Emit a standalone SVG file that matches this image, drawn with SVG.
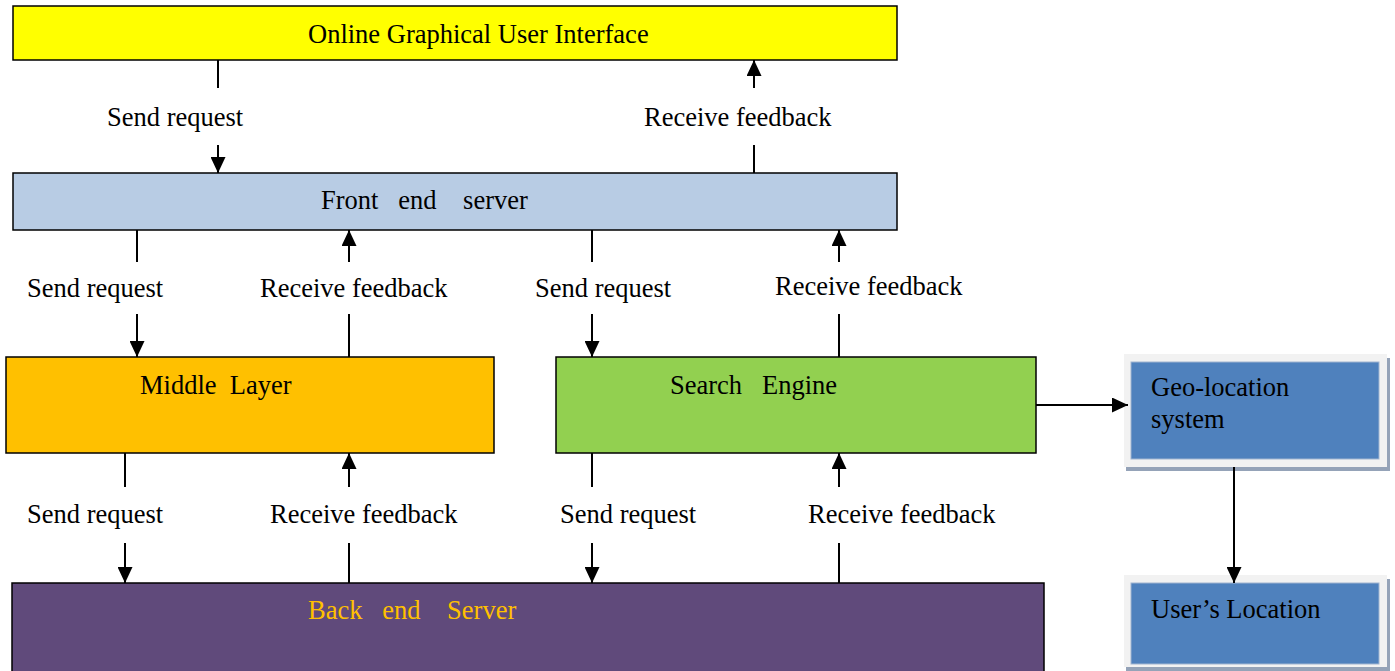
<svg xmlns="http://www.w3.org/2000/svg" width="1395" height="671" viewBox="0 0 1395 671">
<style>
text{font-family:"Liberation Serif","Times New Roman",serif;font-size:26.5px;fill:#000;white-space:pre}
.box{stroke:#000;stroke-width:1.5}
.ln{stroke:#000;stroke-width:2;fill:none}
.frame{fill:#F2F2F2}
.shadow{fill:#95A3B8}
.blue{fill:#4F81BD;stroke:#A0B4D0;stroke-width:1}
</style>
<defs>
<marker id="ah" viewBox="0 0 16 15" refX="16" refY="7.5" markerWidth="16" markerHeight="15" markerUnits="userSpaceOnUse" orient="auto">
<path d="M0,0 L16,7.5 L0,15 Z" fill="#000"/>
</marker>
</defs>
<rect width="1395" height="671" fill="#fff"/>
<g id="gui"><rect class="box" x="13" y="6" width="884" height="54" fill="#FFFF00"/><text x="308" y="43">Online Graphical User Interface</text></g>
<g id="frontend"><rect class="box" x="13" y="173" width="884" height="57" fill="#B8CCE4"/><text x="321" y="209">Front   end    server</text></g>
<g id="middle"><rect class="box" x="6" y="357" width="488" height="96" fill="#FFC000"/><text x="140" y="394">Middle  Layer</text></g>
<g id="search"><rect class="box" x="556" y="357" width="480" height="96" fill="#92D050"/><text x="670" y="394">Search   Engine</text></g>
<g id="backend"><rect class="box" x="12" y="583" width="1032" height="92" fill="#604A7B"/><text x="308" y="619" style="fill:#FFC000">Back   end    Server</text></g>
<g id="geo"><rect class="shadow" x="1126" y="358" width="264" height="113"/><rect class="frame" x="1124" y="354" width="263" height="113"/><rect class="blue" x="1131" y="362" width="248" height="97"/><text x="1151" y="396">Geo-location</text><text x="1151" y="428">system</text></g>
<g id="userloc"><rect class="shadow" x="1126" y="579" width="264" height="92"/><rect class="frame" x="1124" y="575" width="263" height="92"/><rect class="blue" x="1131" y="583" width="248" height="81"/><text x="1151" y="618">User’s Location</text></g>
<g id="connectors">
<line class="ln" x1="218" y1="60" x2="218" y2="88"/><line class="ln" x1="218" y1="145" x2="218" y2="173" marker-end="url(#ah)"/>
<line class="ln" x1="754" y1="173" x2="754" y2="145"/><line class="ln" x1="754" y1="88" x2="754" y2="60" marker-end="url(#ah)"/>
<line class="ln" x1="137" y1="230" x2="137" y2="262"/><line class="ln" x1="137" y1="314" x2="137" y2="357" marker-end="url(#ah)"/>
<line class="ln" x1="349" y1="357" x2="349" y2="314"/><line class="ln" x1="349" y1="262" x2="349" y2="230" marker-end="url(#ah)"/>
<line class="ln" x1="592" y1="230" x2="592" y2="262"/><line class="ln" x1="592" y1="314" x2="592" y2="357" marker-end="url(#ah)"/>
<line class="ln" x1="839" y1="357" x2="839" y2="314"/><line class="ln" x1="839" y1="262" x2="839" y2="230" marker-end="url(#ah)"/>
<line class="ln" x1="125" y1="453" x2="125" y2="487"/><line class="ln" x1="125" y1="543" x2="125" y2="583" marker-end="url(#ah)"/>
<line class="ln" x1="349" y1="583" x2="349" y2="543"/><line class="ln" x1="349" y1="487" x2="349" y2="453" marker-end="url(#ah)"/>
<line class="ln" x1="592" y1="453" x2="592" y2="487"/><line class="ln" x1="592" y1="543" x2="592" y2="583" marker-end="url(#ah)"/>
<line class="ln" x1="839" y1="583" x2="839" y2="543"/><line class="ln" x1="839" y1="487" x2="839" y2="453" marker-end="url(#ah)"/>
<line class="ln" x1="1036" y1="405" x2="1128" y2="405" marker-end="url(#ah)"/>
<line class="ln" x1="1234" y1="467" x2="1234" y2="583" marker-end="url(#ah)"/>
<text x="107" y="126">Send request</text>
<text x="644" y="126">Receive feedback</text>
<text x="27" y="297">Send request</text>
<text x="260" y="297">Receive feedback</text>
<text x="535" y="297">Send request</text>
<text x="775" y="295">Receive feedback</text>
<text x="27" y="523">Send request</text>
<text x="270" y="523">Receive feedback</text>
<text x="560" y="523">Send request</text>
<text x="808" y="523">Receive feedback</text>
</g>
</svg>
